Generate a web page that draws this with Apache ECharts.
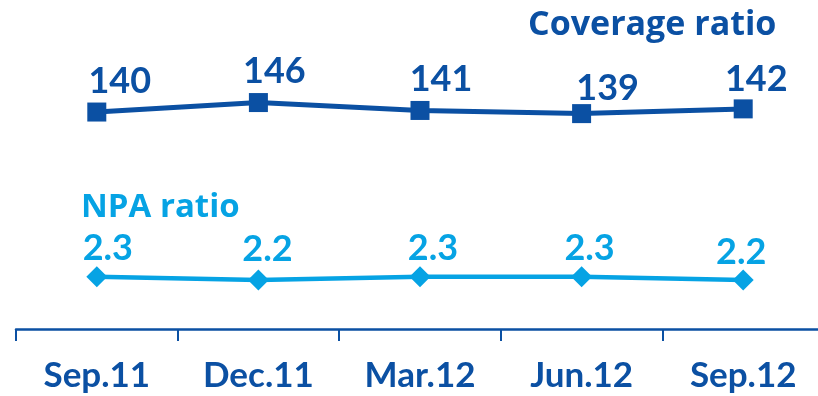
<!DOCTYPE html>
<html><head><meta charset="utf-8">
<script src="https://cdn.jsdelivr.net/npm/echarts@6/dist/echarts.min.js"></script>
<style>html,body{margin:0;padding:0;background:#fff}#c{width:818px;height:396px}</style>
</head><body><div id="c"></div>
<script>
const categories = ['Sep.11', 'Dec.11', 'Mar.12', 'Jun.12', 'Sep.12'];
const coverageRatio = [140, 146, 141, 139, 142];
const npaRatio = [2.3, 2.2, 2.3, 2.3, 2.2];
const coverageName = 'Coverage ratio';
const npaName = 'NPA ratio';

const dark = '#0b50a3';
const light = '#06a3e4';
const titleFont = '"Open Sans", sans-serif';
const labelFont = 'Lato, sans-serif';

const covOffsets = [[23, -31], [16, -31.5], [21, -31.5], [26, -25.5], [13, -29.5]];
const npaOffsets = [[11, -28], [9, -30.5], [13, -28], [8, -28], [-2, -28]];

const chart = echarts.init(document.getElementById('c'), null, {renderer: 'canvas'});
chart.setOption({
  animation: false,
  title: [
    {text: coverageName, left: 523, top: 3, textStyle: {color: dark, fontSize: 34, fontWeight: 'bold', fontFamily: titleFont}},
    {text: npaName, left: 76, top: 186, textStyle: {color: light, fontSize: 33, fontWeight: 'bold', fontFamily: titleFont}}
  ],
  grid: {left: 16, width: 808, top: 0, bottom: 67, outerBoundsMode: 'none', containLabel: false},
  xAxis: {
    type: 'category', data: categories, boundaryGap: true,
    axisLine: {show: true, lineStyle: {color: dark, width: 2.5}},
    axisTick: {show: true, length: 12, lineStyle: {color: dark, width: 2}},
    axisLabel: {show: true, color: dark, fontSize: 35, fontWeight: 'bold', fontFamily: labelFont, margin: 29},
    splitLine: {show: false}
  },
  yAxis: [
    {type: 'value', min: 2.7, max: 210.9, show: false},
    {type: 'value', min: 0.715, max: 10.685, show: false}
  ],
  series: [
    {
      name: coverageName, type: 'line', yAxisIndex: 0,
      data: coverageRatio.map((v, i) => ({value: v, label: {offset: covOffsets[i]}})),
      symbol: 'rect', symbolSize: 19,
      lineStyle: {color: dark, width: 5}, itemStyle: {color: dark},
      label: {show: true, position: 'inside', color: dark, fontSize: 36, fontWeight: 'bold', fontFamily: labelFont}
    },
    {
      name: npaName, type: 'line', yAxisIndex: 1,
      data: npaRatio.map((v, i) => ({value: v, label: {offset: npaOffsets[i]}})),
      symbol: 'diamond', symbolSize: 21,
      lineStyle: {color: light, width: 4.5}, itemStyle: {color: light},
      label: {show: true, position: 'inside', color: light, fontSize: 36, fontWeight: 'bold', fontFamily: labelFont, formatter: p => p.value.toFixed(1)}
    }
  ]
});
</script></body></html>
